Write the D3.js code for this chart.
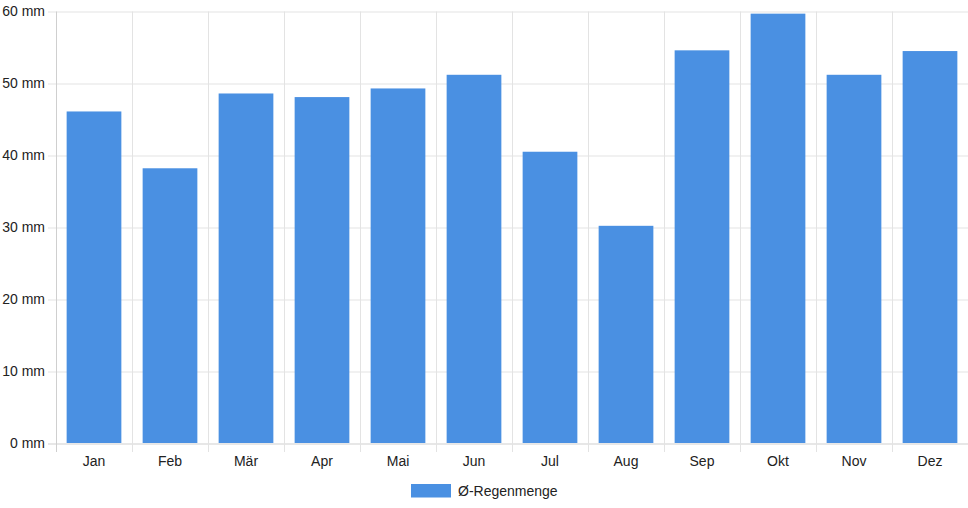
<!DOCTYPE html>
<html>
<head>
<meta charset="utf-8">
<script src="https://cdn.jsdelivr.net/npm/d3@7"></script>
<style>
  body { margin: 0; background: #fff; }
  text { font-family: "Liberation Sans", Arial, sans-serif; font-size: 14px; fill: #222; }
</style>
</head>
<body>
<div id="chart"></div>
<script>
// Chart data
var months = ["Jan", "Feb", "Mär", "Apr", "Mai", "Jun", "Jul", "Aug", "Sep", "Okt", "Nov", "Dez"];
var rainfall = [46.1, 38.2, 48.6, 48.1, 49.3, 51.2, 40.5, 30.2, 54.6, 59.7, 51.2, 54.5];
var yTicks = [0, 10, 20, 30, 40, 50, 60];
var seriesName = "Ø-Regenmenge";

// Chart parameters
var svgWidth = 968;
var svgHeight = 508;
var margin = { top: 11.5, right: 0, bottom: 65, left: 56 };
var width = svgWidth - margin.left - margin.right;
var height = svgHeight - margin.top - margin.bottom;

var barColor = "#4a90e2";
var gridColor = "#e3e3e3";

var svg = d3.select("#chart")
  .append("svg")
  .attr("width", svgWidth)
  .attr("height", svgHeight);

var chartGroup = svg.append("g")
  .attr("transform", `translate(${margin.left}, ${margin.top})`);

// scales
var xBand = d3.scaleBand()
  .domain(months)
  .range([0, width]);

var yLinearScale = d3.scaleLinear()
  .domain([0, 60])
  .range([height, 0]);

// horizontal gridlines + y ticks
chartGroup.append("g")
  .selectAll("line")
  .data(yTicks)
  .enter()
  .append("line")
  .attr("x1", -8)
  .attr("x2", width)
  .attr("y1", d => Math.round(yLinearScale(d)) + 0.5)
  .attr("y2", d => Math.round(yLinearScale(d)) + 0.5)
  .attr("stroke", d => d === 0 ? "#cfcfcf" : gridColor)
  .attr("stroke-width", 1);

// vertical gridlines at category boundaries
var boundaries = months.map(m => xBand(m));
chartGroup.append("g")
  .selectAll("line")
  .data(boundaries)
  .enter()
  .append("line")
  .attr("x1", d => Math.round(d) + 0.5)
  .attr("x2", d => Math.round(d) + 0.5)
  .attr("y1", 0)
  .attr("y2", height + 9)
  .attr("stroke", (d, i) => i === 0 ? "#cfcfcf" : gridColor)
  .attr("stroke-width", 1);

// y-axis labels
chartGroup.append("g")
  .selectAll("text")
  .data(yTicks)
  .enter()
  .append("text")
  .attr("x", -11)
  .attr("y", d => yLinearScale(d))
  .attr("dy", "0.35em")
  .attr("text-anchor", "end")
  .text(d => d + " mm");

// bars
var barWidth = xBand.bandwidth() * 0.72;
chartGroup.append("g")
  .selectAll("rect")
  .data(rainfall)
  .enter()
  .append("rect")
  .attr("x", (d, i) => xBand(months[i]) + (xBand.bandwidth() - barWidth) / 2)
  .attr("y", d => yLinearScale(d))
  .attr("width", barWidth)
  .attr("height", d => height - yLinearScale(d))
  .attr("fill", barColor);

// x-axis labels
chartGroup.append("g")
  .selectAll("text")
  .data(months)
  .enter()
  .append("text")
  .attr("x", d => xBand(d) + xBand.bandwidth() / 2)
  .attr("y", height + 18)
  .attr("dy", "0.35em")
  .attr("text-anchor", "middle")
  .text(d => d);

// legend
var legend = svg.append("g")
  .attr("transform", "translate(411, 484)");

legend.append("rect")
  .attr("width", 40)
  .attr("height", 13.5)
  .attr("fill", barColor);

legend.append("text")
  .attr("x", 47)
  .attr("y", 7)
  .attr("dy", "0.35em")
  .text(seriesName);
</script>
</body>
</html>
